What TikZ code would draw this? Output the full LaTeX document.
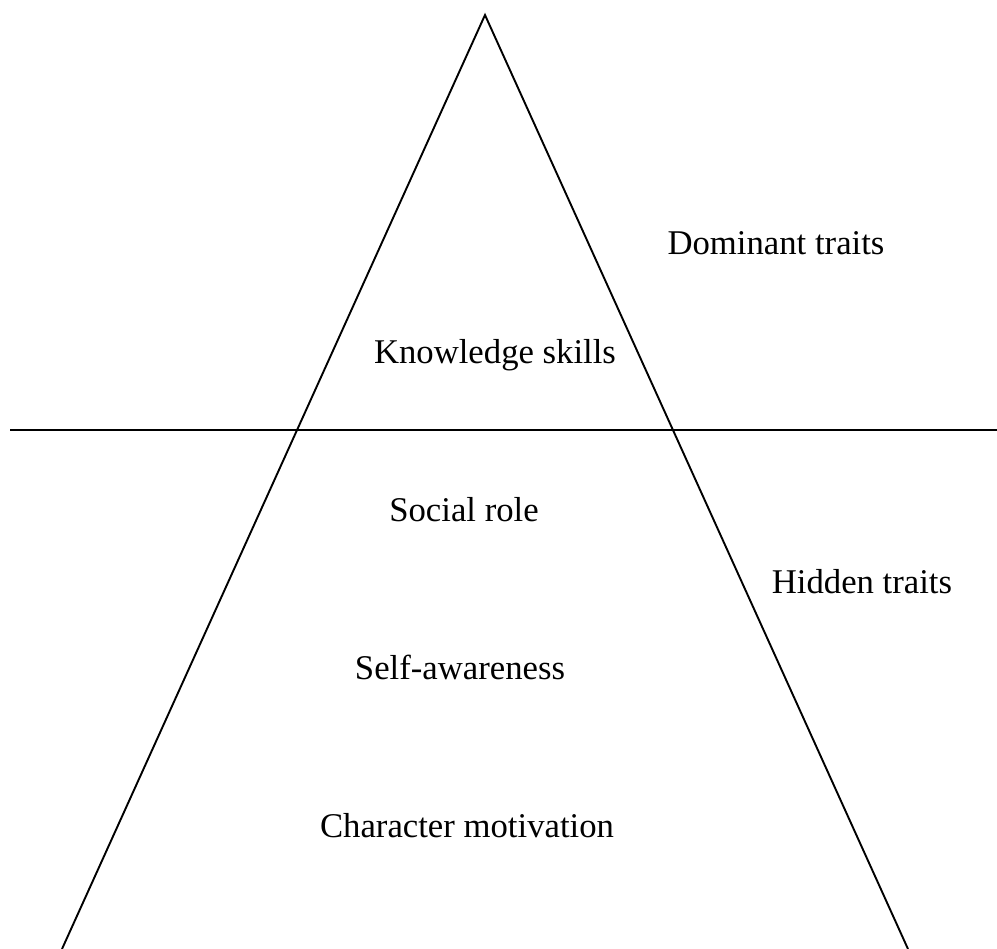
\documentclass[tikz,border=0pt]{standalone}
\usepackage{fontspec}
\setmainfont{Liberation Serif}
\begin{document}
\begin{tikzpicture}[x=1pt,y=-1pt,
  lbl/.style={font=\fontsize{34.7}{40}\selectfont, inner sep=0pt, anchor=base},
  side/.style={line width=1.9pt, draw=black},
  divider/.style={line width=2.7pt, draw=black}]
\useasboundingbox (0,0) rectangle (997,949);
\coordinate (apex) at (485,15);
\coordinate (bl) at (62,949);
\coordinate (br) at (908,949);
\coordinate (hl) at (10,430);
\coordinate (hr) at (997,430);
\draw[side, line join=miter] (bl) -- (apex) -- (br);
\draw[divider] (hl) -- (hr);
\node[lbl] (dom) at (776,255) {Dominant traits};
\node[lbl] (know) at (495,364) {Knowledge skills};
\node[lbl] (soc) at (464,522) {Social role};
\node[lbl] (hid) at (862,594) {Hidden traits};
\node[lbl] (self) at (460,679) {Self-awareness};
\node[lbl] (char) at (467,837) {Character motivation};
\end{tikzpicture}
\end{document}
